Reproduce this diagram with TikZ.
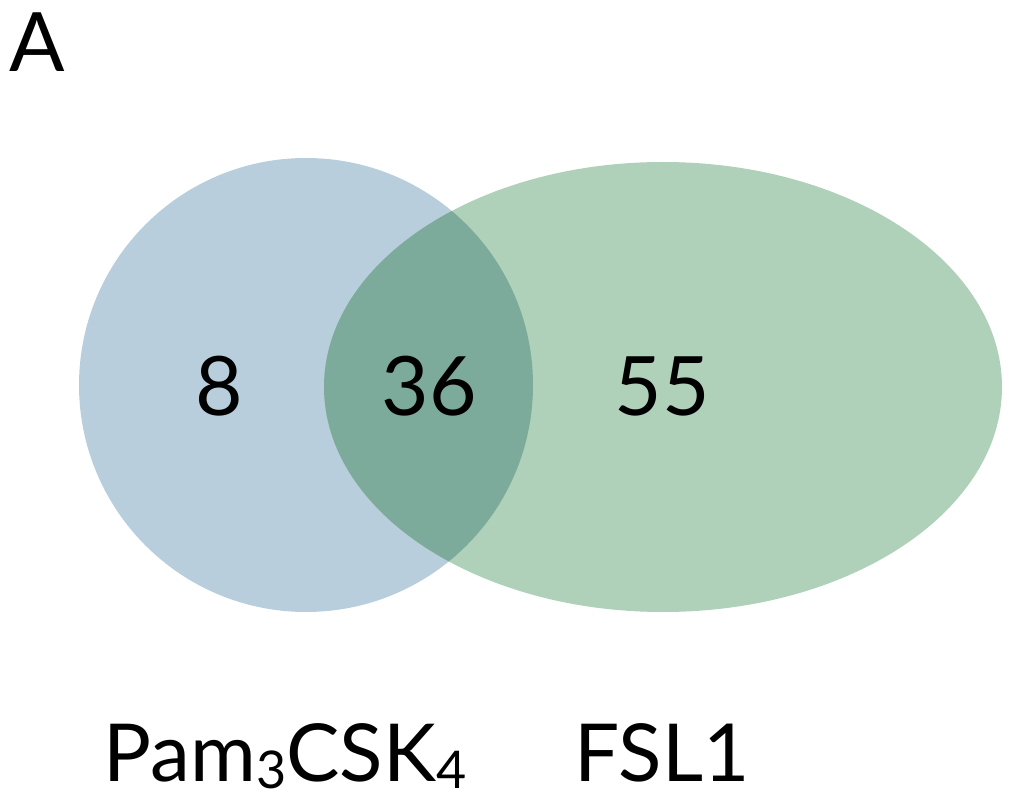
\documentclass[tikz,border=0pt]{standalone}
\usepackage{fontspec}
\setmainfont{Lato}
\definecolor{pamblue}{RGB}{185,206,220}
\definecolor{fslgreen}{RGB}{175,208,185}
\definecolor{bothgreen}{RGB}{125,171,155}
\newcommand\lowdigit[1]{\raisebox{-7pt}{\fontsize{52}{60}\selectfont #1}}

\begin{document}
\begin{tikzpicture}
  [x=1pt,y=-1pt,
   count/.style={font=\fontsize{82}{90}\selectfont,anchor=base,inner sep=0pt},
   setname/.style={font=\fontsize{80}{90}\selectfont,anchor=base,inner sep=0pt}]
  \useasboundingbox (0,0) rectangle (1012,799);

  % the two sets
  \fill[pamblue]  (306,385) circle [radius=227pt];
  \fill[fslgreen] (663,387) ellipse [x radius=339pt, y radius=225pt];
  \begin{scope}
    \clip (306,385) circle [radius=227pt];
    \fill[bothgreen] (663,387) ellipse [x radius=339pt, y radius=225pt];
  \end{scope}

  \node[count]   (panel)    at (37,72)   {A};
  \node[count]   (only pam) at (219,416) {8};
  \node[count]   (both)     at (429,416) {36};
  \node[count]   (only fsl) at (662,416) {55};

  \node[setname] (pam name) at (285,781) {Pam\lowdigit{3}CSK\lowdigit{4}};
  \node[setname] (fsl name) at (662,781) {FSL1};
\end{tikzpicture}
\end{document}
